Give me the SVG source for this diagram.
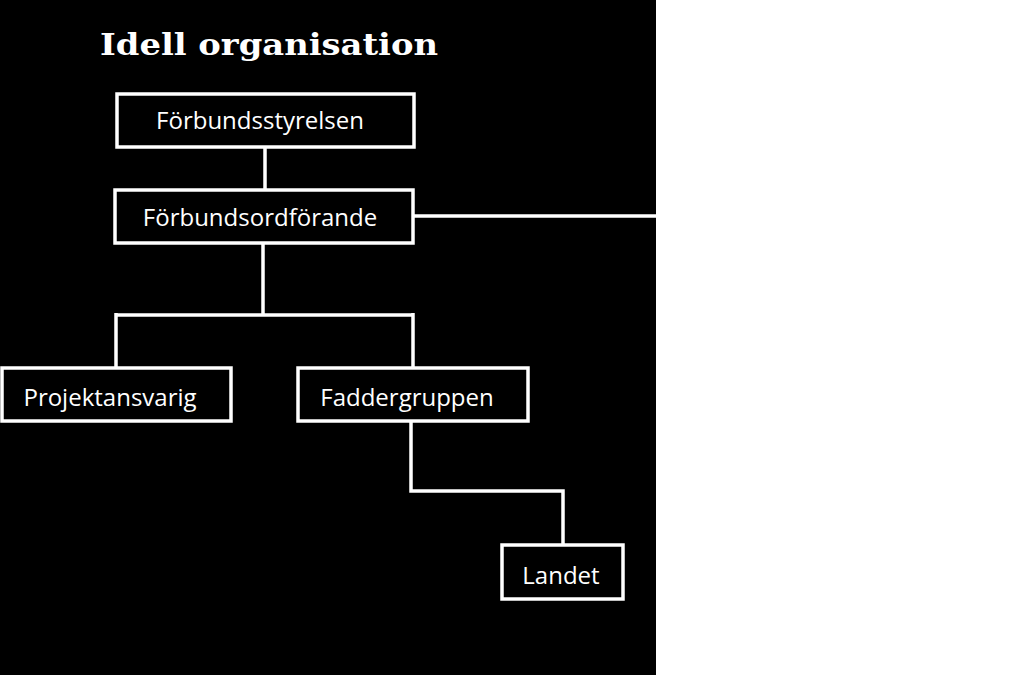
<svg xmlns="http://www.w3.org/2000/svg" width="1024" height="675" viewBox="0 0 1024 675">
<style>
.box{fill:#000;stroke:#fff;stroke-width:3.5}
.lbl{fill:#fff;font-family:"Open Sans","Noto Sans",sans-serif;font-size:24px;text-anchor:middle}
.ln{fill:none;stroke:#fff;stroke-width:3.5}
</style>
<rect width="1024" height="675" fill="#000"/>
<rect x="656" y="0" width="368" height="675" fill="#fff"/>
<text x="100" y="55" fill="#fff" font-family="DejaVu Serif,serif" font-weight="bold" font-size="30" textLength="338" lengthAdjust="spacingAndGlyphs">Idell organisation</text>
<g id="connectors">
<path class="ln" d="M265 147V190M413 216H656M263 243V315M116 315H413M116 313V368M413 313V368M411 421V491H563V545"/>
</g>
<g id="n1"><rect class="box" x="117" y="94" width="297" height="53"/><text class="lbl" x="260" y="129">Förbundsstyrelsen</text></g>
<g id="n2"><rect class="box" x="115" y="190" width="298" height="53"/><text class="lbl" x="260" y="226">Förbundsordförande</text></g>
<g id="n3"><rect class="box" x="2" y="368" width="229" height="53"/><text class="lbl" x="110" y="406">Projektansvarig</text></g>
<g id="n4"><rect class="box" x="298" y="368" width="230" height="53"/><text class="lbl" x="407" y="406">Faddergruppen</text></g>
<g id="n5"><rect class="box" x="502" y="545" width="121" height="54"/><text class="lbl" x="561" y="584">Landet</text></g>
</svg>
